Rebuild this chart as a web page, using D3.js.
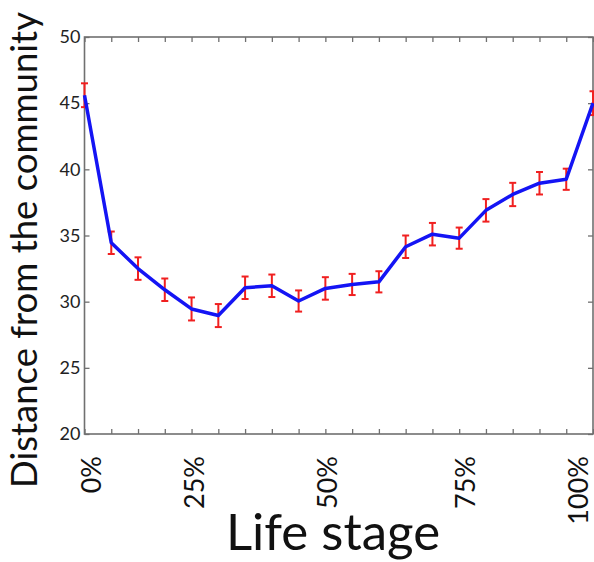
<!DOCTYPE html>
<html>
<head>
<meta charset="utf-8">
<script src="https://cdn.jsdelivr.net/npm/d3@7"></script>
<style>
  body { margin: 0; background: #fff; }
  svg { display: block; font-family: Lato, "Open Sans", sans-serif; }
</style>
</head>
<body>
<div id="container"></div>
<script>
// Data: mean distance per life-stage step, with error half-widths
const stage = d3.range(20); // 20 steps from 0% to 100%
const distance = [45.6, 34.45, 32.5, 30.9, 29.45, 28.95, 31.05, 31.2, 30.05, 31.0,
                  31.3, 31.5, 34.15, 35.1, 34.8, 36.9, 38.1, 38.95, 39.25, 45.0];
const errHalf = [0.9, 0.85, 0.85, 0.85, 0.87, 0.87, 0.85, 0.85, 0.8, 0.85,
                 0.8, 0.8, 0.85, 0.85, 0.8, 0.85, 0.88, 0.85, 0.8, 0.9];
const yTicks = [20, 25, 30, 35, 40, 45, 50];
const stageLabels = ["0%", "25%", "50%", "75%", "100%"];
const stageLabelAt = [0.26, 4.11, 9.05, 14.21, 18.44]; // label positions in step units

const width = 594, height = 562;
const plotLeft = 84.5, plotRight = 593, plotTop = 37, plotBottom = 434;

const x = d3.scaleLinear().domain([0, 19]).range([plotLeft, plotRight]);
const y = d3.scaleLinear().domain([20, 50]).range([plotBottom, plotTop]);

const svg = d3.create("svg").attr("width", width).attr("height", height);

const axisColor = "#707070";
const tick = 5;

// axes (ticks pointing inward on all four sides)
const gBottom = svg.append("g").attr("transform", `translate(0,${plotBottom})`)
  .call(d3.axisTop(x).tickValues(stage).tickSize(tick).tickFormat(""));
const gTop = svg.append("g").attr("transform", `translate(0,${plotTop})`)
  .call(d3.axisBottom(x).tickValues(stage).tickSize(tick).tickFormat(""));
const gLeft = svg.append("g").attr("transform", `translate(${plotLeft},0)`)
  .call(d3.axisRight(y).tickValues(yTicks).tickSize(tick).tickFormat(""));
const gRight = svg.append("g").attr("transform", `translate(${plotRight},0)`)
  .call(d3.axisLeft(y).tickValues(yTicks).tickSize(tick).tickFormat(""));
[gBottom, gTop, gLeft, gRight].forEach(g => {
  g.selectAll("path.domain").remove();
  g.selectAll("line").attr("stroke", axisColor).attr("stroke-width", 1.3);
});

// frame
svg.append("rect")
  .attr("x", plotLeft).attr("y", plotTop)
  .attr("width", plotRight - plotLeft).attr("height", plotBottom - plotTop)
  .attr("fill", "none").attr("stroke", axisColor).attr("stroke-width", 1.6);

// y tick labels
svg.append("g").selectAll("text").data(yTicks).join("text")
  .attr("x", plotLeft - 4).attr("y", d => y(d))
  .attr("dy", "0.35em")
  .attr("text-anchor", "end")
  .style("font-size", "18px")
  .style("fill", "#222")
  .text(d => d);

// error bars
const eb = svg.append("g").attr("stroke", "#f02020").attr("stroke-width", 2);
stage.forEach(i => {
  const cx = x(i), y0 = y(distance[i] - errHalf[i]), y1 = y(distance[i] + errHalf[i]);
  eb.append("line").attr("x1", cx).attr("x2", cx).attr("y1", y0).attr("y2", y1);
  eb.append("line").attr("x1", cx - 3.5).attr("x2", cx + 3.5).attr("y1", y0).attr("y2", y0);
  eb.append("line").attr("x1", cx - 3.5).attr("x2", cx + 3.5).attr("y1", y1).attr("y2", y1);
});

// mean line
svg.append("path")
  .datum(stage)
  .attr("fill", "none")
  .attr("stroke", "#1414f4")
  .attr("stroke-width", 3.5)
  .attr("stroke-linejoin", "round")
  .attr("d", d3.line().x(i => x(i)).y(i => y(distance[i])));

// x stage labels (rotated)
svg.append("g").selectAll("text").data(stageLabels).join("text")
  .attr("transform", (d, k) => `translate(${x(stageLabelAt[k]) + 10},456) rotate(-90)`)
  .attr("text-anchor", "end")
  .style("font-size", "27px")
  .style("fill", "#111")
  .text(d => d);

// axis titles
svg.append("text")
  .attr("x", 333).attr("y", 550)
  .attr("text-anchor", "middle")
  .style("font-size", "51px")
  .style("fill", "#111")
  .text("Life stage");

svg.append("text")
  .attr("transform", "translate(37,488) rotate(-90)")
  .attr("text-anchor", "start")
  .style("font-size", "36.5px")
  .style("fill", "#111")
  .text("Distance from the community");

document.getElementById("container").append(svg.node());
</script>
</body>
</html>
